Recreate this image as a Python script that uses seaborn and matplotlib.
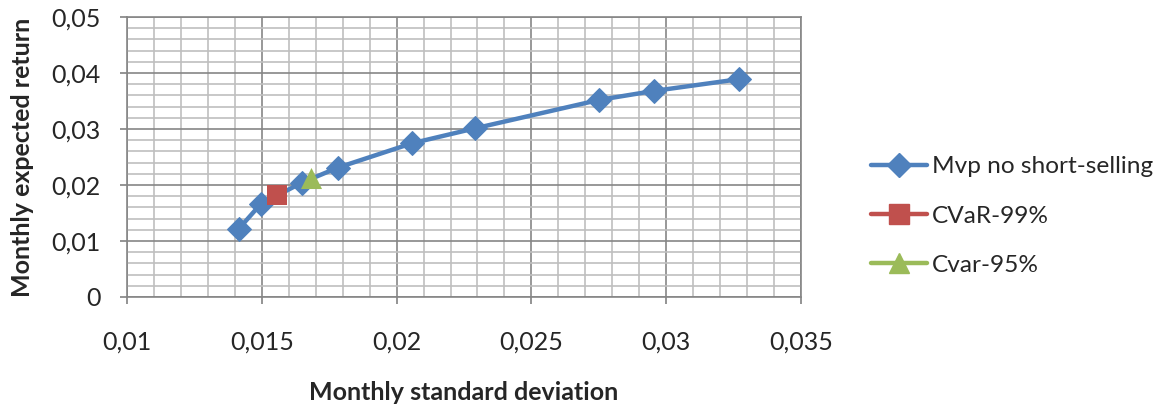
import matplotlib
matplotlib.use("Agg")
import matplotlib.pyplot as plt
from matplotlib.lines import Line2D
from matplotlib.ticker import MultipleLocator, FuncFormatter
import seaborn as sns
import pandas as pd

# Data
mvp_std = [0.01415, 0.01496, 0.01648, 0.01782, 0.02057, 0.02289, 0.02752, 0.02955, 0.03271]
mvp_ret = [0.0122, 0.0166, 0.0204, 0.0231, 0.02745, 0.0301, 0.0352, 0.0368, 0.0389]
cvar99_std = [0.01555]
cvar99_ret = [0.0182]
cvar95_std = [0.01682]
cvar95_ret = [0.0212]
series_names = ["Mvp no short-selling", "CVaR-99%", "Cvar-95%"]
x_ticks = [0.01, 0.015, 0.02, 0.025, 0.03, 0.035]
y_ticks = [0, 0.01, 0.02, 0.03, 0.04, 0.05]

sns.set_theme(style="white")
plt.rcParams['font.family'] = ['Lato', 'DejaVu Sans']

BLUE = "#4F81BD"
RED = "#C0504D"
GREEN = "#9BBB59"

W, H = 1165, 413
fig = plt.figure(figsize=(W / 100, H / 100), dpi=100)
ax = fig.add_axes([127 / W, 1 - 297 / H, (801 - 127) / W, (297 - 17) / H])

df = pd.DataFrame({"std": mvp_std, "ret": mvp_ret})
sns.lineplot(data=df, x="std", y="ret", ax=ax, color=BLUE, linewidth=3.2,
             marker="D", markersize=12, markeredgecolor=BLUE, sort=False, zorder=3)
sns.scatterplot(x=cvar99_std, y=cvar99_ret, ax=ax, color=RED, marker="s", s=210,
                edgecolor=RED, linewidth=0, zorder=4)
sns.scatterplot(x=cvar95_std, y=cvar95_ret, ax=ax, color=GREEN, marker="^", s=230,
                edgecolor=GREEN, linewidth=0, zorder=4)

ax.set_xlim(0.01, 0.035)
ax.set_ylim(0, 0.05)
ax.set_xticks(x_ticks)
ax.set_yticks(y_ticks)
ax.xaxis.set_minor_locator(MultipleLocator(0.001))
ax.yaxis.set_minor_locator(MultipleLocator(0.002))

def fmt(v, pos):
    if abs(v) < 1e-12:
        return "0"
    s = ("%.3f" % v).rstrip("0").rstrip(".")
    return s.replace(".", ",")

ax.xaxis.set_major_formatter(FuncFormatter(fmt))
ax.yaxis.set_major_formatter(FuncFormatter(fmt))

ax.grid(which="major", color="#868686", linewidth=1.2, zorder=0)
ax.grid(which="minor", color="#BFBFBF", linewidth=1.2, zorder=0)
ax.set_axisbelow(True)
for sp in ax.spines.values():
    sp.set_color("#868686")
    sp.set_linewidth(1.2)

ax.tick_params(axis="both", which="major", labelsize=18, length=5, color="#868686",
               direction="out", bottom=True, left=True)
ax.tick_params(axis="x", which="major", pad=19)
ax.tick_params(axis="y", which="major", pad=14)
ax.tick_params(axis="both", which="minor", length=0)

ax.set_xlabel("Monthly standard deviation", fontsize=18, fontweight="bold")
ax.set_ylabel("Monthly expected return", fontsize=18, fontweight="bold")
ax.xaxis.set_label_coords(0.5, -(393 - 297) / (297 - 17), transform=ax.transAxes)
ax.yaxis.set_label_coords(-(127 - 22) / (801 - 127), 0.5, transform=ax.transAxes)
ax.xaxis.label.set_va("center")
ax.yaxis.label.set_va("center")

handles = [
    Line2D([], [], color=BLUE, linewidth=3.2, marker="D", markersize=12),
    Line2D([], [], color=RED, linewidth=3.2, marker="s", markersize=14),
    Line2D([], [], color=GREEN, linewidth=3.2, marker="^", markersize=15),
]
fig.legend(handles, series_names, loc="center left", bbox_to_anchor=(871 / W, 1 - 216 / H),
           frameon=False, fontsize=17.6, handlelength=2.3, handletextpad=0.2,
           labelspacing=1.15, borderpad=0, borderaxespad=0)

fig.savefig("out.png", dpi=100)
